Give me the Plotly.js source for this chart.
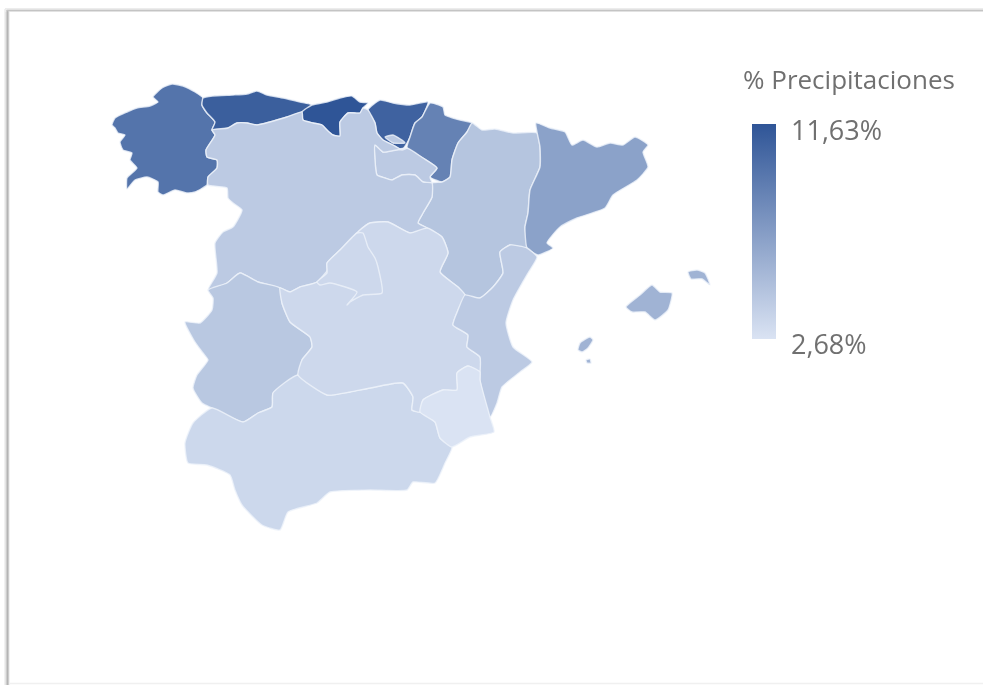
<!DOCTYPE html>
<html><head><meta charset="utf-8">
<script src="https://cdn.plot.ly/plotly-3.0.1.min.js"></script>
<style>html,body{margin:0;padding:0;background:#fff}#c{width:983px;height:685px;filter:blur(0.55px)}</style>
</head><body><div id="c"></div>
<script>
const legendTitle = "% Precipitaciones";
const minValue = 2.68, maxValue = 11.63;
const tickLabels = ["11,63%", "2,68%"];
const scaleLow = [218,227,243], scaleHigh = [47,85,151];

const regionNames = ["Galicia","Asturias","Cantabria","País Vasco","Navarra","Aragón","Cataluña","La Rioja","Castilla y León","Extremadura","Andalucía","Castilla-La Mancha","Madrid","C. Valenciana","Murcia","Mallorca","Menorca","Ibiza","Formentera","Treviño"];
const regionValues = [9.7,11.0,11.63,10.8,8.8,4.6,6.8,4.25,4.25,4.4,3.4,3.36,3.36,4.25,2.68,5.7,5.7,5.7,5.7,4.25];

const galicia = [[112,125],[115,118],[127,112],[137,108],[150,106],[158,102],[153,97],[162,88],[172,84],[183,86],[195,92],[203,98],[202,105],[207,113],[215,122],[212,130],[215,135],[206,150],[207,157],[217,160],[217,168],[208,177],[207,185],[195,192],[187,193],[175,190],[163,195],[158,192],[158,182],[147,177],[135,180],[127,189],[127,178],[137,168],[130,160],[132,153],[123,150],[120,142],[125,135],[118,133],[115,128]];
const asturias = [[203,98],[213,96],[233,95],[247,94],[257,91],[267,95],[283,98],[300,102],[312,105],[302,112],[287,117],[270,122],[257,125],[247,123],[237,123],[228,128],[215,130],[212,130],[215,122],[207,113],[202,105]];
const cantabria = [[312,105],[327,102],[340,98],[352,96],[360,102],[368,103],[363,108],[360,113],[348,113],[340,122],[340,130],[340,136],[333,135],[327,130],[322,125],[313,123],[303,120],[302,112]];
const paisVasco = [[368,110],[380,100],[393,103],[410,105],[428,102],[422,117],[415,123],[410,137],[407,143],[402,150],[393,145],[383,140],[377,133],[375,123]];
const navarra = [[430,103],[443,107],[445,115],[460,120],[472,123],[467,132],[458,143],[452,160],[450,177],[442,182],[430,177],[437,168],[423,158],[407,148],[410,137],[415,123],[422,117]];
const aragon = [[472,123],[482,130],[495,129],[513,133],[537,133],[540,147],[540,167],[530,190],[528,213],[525,227],[527,248],[510,245],[500,252],[503,273],[493,287],[480,298],[465,295],[458,287],[440,272],[448,253],[442,237],[427,228],[418,223],[423,213],[432,197],[432,183],[442,182],[450,177],[452,160],[458,143],[467,132]];
const cataluna = [[536,123],[550,128],[565,132],[572,145],[583,140],[597,147],[610,143],[623,145],[635,137],[648,145],[643,152],[648,167],[637,180],[613,195],[605,208],[577,218],[560,227],[547,243],[553,248],[538,255],[527,248],[525,227],[528,213],[530,190],[540,167],[540,147]];
const rioja = [[375,145],[383,152],[407,148],[423,158],[437,168],[430,177],[432,183],[423,182],[415,175],[402,175],[392,180],[385,178],[377,175],[375,160]];
const castillaLeon = [[212,130],[228,128],[237,123],[247,123],[257,125],[270,122],[287,117],[302,112],[303,120],[313,123],[322,125],[327,130],[333,135],[340,136],[340,122],[348,113],[360,113],[363,108],[368,110],[375,123],[377,133],[383,140],[393,145],[402,150],[407,148],[383,152],[375,145],[375,160],[377,175],[385,178],[392,180],[402,175],[415,175],[423,182],[432,183],[432,197],[423,213],[418,223],[427,228],[410,233],[388,222],[370,223],[360,230],[357,233],[340,250],[327,263],[327,273],[317,282],[300,287],[290,292],[280,288],[258,282],[240,273],[227,283],[208,290],[217,273],[215,243],[223,232],[233,227],[242,210],[233,203],[228,198],[227,188],[208,185],[208,177],[217,168],[217,160],[207,157],[206,150],[215,135]];
const extremadura = [[185,322],[200,323],[212,310],[213,298],[208,290],[227,283],[240,273],[258,282],[280,288],[282,303],[290,322],[310,337],[312,347],[302,360],[298,375],[273,393],[272,407],[258,413],[243,422],[212,408],[202,403],[193,388],[197,375],[208,360],[203,353],[195,342]];
const andalucia = [[298,375],[327,395],[350,392],[370,388],[403,383],[413,397],[412,410],[420,412],[435,422],[440,438],[452,447],[445,463],[435,483],[413,482],[407,490],[370,490],[330,492],[317,503],[288,512],[280,530],[262,525],[242,505],[235,490],[230,475],[207,465],[188,463],[185,443],[193,423],[212,408],[243,422],[258,413],[272,407],[273,393]];
const castillaMancha = [[360,230],[370,223],[388,222],[410,233],[427,228],[442,237],[448,253],[440,272],[458,287],[465,295],[458,310],[453,325],[468,335],[467,347],[480,357],[480,372],[468,366],[457,373],[457,390],[443,390],[423,400],[420,412],[412,410],[413,397],[403,383],[370,388],[350,392],[327,395],[298,375],[302,360],[312,347],[310,337],[290,322],[282,303],[280,288],[290,292],[300,287],[317,282],[357,233]];
const madrid = [[363,233],[368,247],[375,258],[378,267],[382,293],[363,295],[350,302],[347,305],[357,292],[330,283],[320,285],[317,282],[327,273],[327,263],[340,250],[357,233]];
const valenciana = [[465,295],[480,298],[493,287],[503,273],[500,252],[510,245],[527,248],[537,257],[528,273],[513,300],[506,323],[513,347],[532,362],[520,372],[502,387],[497,403],[490,417],[480,380],[480,357],[467,347],[468,335],[453,325],[458,310]];
const murcia = [[420,412],[423,400],[443,390],[457,390],[457,373],[468,366],[480,372],[480,380],[490,417],[494,432],[470,437],[452,447],[440,438],[435,422]];
const mallorca = [[626,307],[640,295],[652,285],[660,292],[672,293],[668,310],[655,320],[645,312],[632,312]];
const menorca = [[688,272],[697,270],[705,273],[710,285],[702,279],[691,279]];
const ibiza = [[578,350],[580,343],[590,337],[593,340],[588,348],[582,352]];
const formentera = [[586,360],[590,359],[591,363],[587,363]];
const trevino = [[385,137],[393,135],[402,140],[405,143],[393,143]];
const outlines = [galicia,asturias,cantabria,paisVasco,navarra,aragon,cataluna,rioja,castillaLeon,extremadura,andalucia,castillaMancha,madrid,valenciana,murcia,mallorca,menorca,ibiza,formentera,trevino];

function colorOf(v){
  const t=(v-minValue)/(maxValue-minValue);
  return 'rgb('+scaleLow.map((c,i)=>Math.round(c+(scaleHigh[i]-c)*t)).join(',')+')';
}
const colorscale=[[0,colorOf(minValue)],[1,colorOf(maxValue)]];
const traces=outlines.map((o,i)=>({
  type:'scatter',mode:'lines',fill:'toself',name:regionNames[i],
  x:o.map(p=>p[0]).concat(o[0][0]),y:o.map(p=>p[1]).concat(o[0][1]),
  fillcolor:colorOf(regionValues[i]),
  line:{color:'rgba(238,243,250,0.8)',width:1.4,shape:'spline',smoothing:0.5},
  text:regionNames[i]+': '+regionValues[i].toFixed(2).replace('.',',')+'%',hoverinfo:'text',hoveron:'fills',showlegend:false
}));
traces.push({type:'scatter',mode:'markers',x:[-50,-50],y:[-50,-50],hoverinfo:'skip',showlegend:false,
  marker:{size:1,color:[minValue,maxValue],cmin:minValue,cmax:maxValue,colorscale:colorscale,showscale:true,
    colorbar:{x:752/983,xanchor:'left',xref:'paper',thickness:24,thicknessmode:'pixels',
      y:1-339/685,yanchor:'bottom',yref:'paper',len:215,lenmode:'pixels',outlinewidth:0,borderwidth:0,xpad:0,ypad:0,
      ticks:'',showticklabels:false}}});
const gray='#707070';
const layout={width:983,height:685,margin:{l:0,r:0,t:0,b:0},paper_bgcolor:'#fff',plot_bgcolor:'#fff',showlegend:false,
  xaxis:{range:[0,983],visible:false,fixedrange:true},
  yaxis:{range:[685,0],visible:false,fixedrange:true},
  shapes:[
    {type:'line',x0:7,x1:7,y0:9,y1:685,line:{color:'#e4e4e4',width:5}},
    {type:'line',x0:5,x1:983,y0:10,y1:10,line:{color:'#ececec',width:4}},
    {type:'line',x0:7.5,x1:7.5,y0:10,y1:685,line:{color:'#b4b4b4',width:2}},
    {type:'line',x0:7,x1:983,y0:10.5,y1:10.5,line:{color:'#c4c4c4',width:1.5}},
    {type:'line',x0:10,x1:983,y0:683.5,y1:683.5,line:{color:'#f0f0f0',width:1.5}}
  ],
  annotations:[
    {xref:'x',yref:'y',x:741,y:79,xanchor:'left',yanchor:'middle',showarrow:false,text:legendTitle,font:{family:'Open Sans',size:26,color:gray}},
    {xref:'x',yref:'y',x:789,y:129,xanchor:'left',yanchor:'middle',showarrow:false,text:tickLabels[0],font:{family:'Open Sans',size:27,color:gray}},
    {xref:'x',yref:'y',x:789,y:343,xanchor:'left',yanchor:'middle',showarrow:false,text:tickLabels[1],font:{family:'Open Sans',size:27,color:gray}}
  ]};
Plotly.newPlot('c',traces,layout,{displayModeBar:false});
</script></body></html>
